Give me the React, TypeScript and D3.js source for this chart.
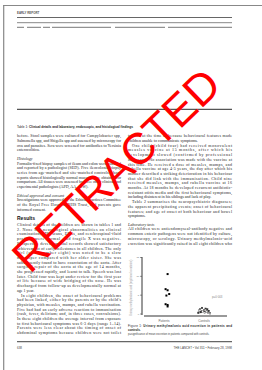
import React from 'react';
import * as d3 from 'd3';

// Figure 1 data
const groups = ['Patients', 'Controls'];
const patientMMA = [10.6, 6.6, 6.3, 5.3, 4.9, 2.6, 2.4, 2.0];
const patientJitter = [0.09, 0.04, 0.09, 0.13, 0.06, 0.04, 0.09, 0.09];
const controlMMA = [1.6, 1.4, 1.3, 1.2, 1.0, 0.9, 0.8, 0.7, 0.6, 0.5, 0.4, 0.3, 0.3, 0.2];
const controlJitter = [-0.05, 0.04, -0.1, 0.08, 0.0, -0.12, 0.12, -0.04, 0.06, -0.08, 0.02, 0.1, -0.14, 0.15];
const yTicks = [0, 5, 10, 15];
const pLabel = 'p=0·003';

// text blocks of the page
type Block = { kind: 'para' | 'head' | 'results'; lines: string[]; indent?: boolean; runOn?: boolean };

const leftColumn: Block[] = [
  { kind: 'para', lines: [
    'before. Stool samples were cultured for Campylobacter spp,',
    'Salmonella spp, and Shigella spp and assessed by microscopy for',
    'ova and parasites. Sera were screened for antibodies to Yersinia',
    'enterocolitica.'] },
  { kind: 'head', lines: ['Histology'] },
  { kind: 'para', lines: [
    'Formalin-fixed biopsy samples of ileum and colon were assessed',
    'and reported by a pathologist (SED). Five ileocolonic biopsy',
    'series from age-matched and site-matched controls whose',
    'reports showed histologically normal mucosa were obtained for',
    'comparison. All tissues were assessed by three other clinical and',
    'experimental pathologists (APD, AA, AJW).'] },
  { kind: 'head', lines: ['Ethical approval and consent'] },
  { kind: 'para', lines: [
    'Investigations were approved by the Ethical Practices Committee',
    'of the Royal Free Hospital NHS Trust, and parents gave',
    'informed consent.'] },
  { kind: 'results', lines: ['Results'] },
  { kind: 'para', lines: [
    'Clinical details of the children are shown in tables 1 and',
    '2. None had neurological abnormalities on clinical',
    'examination; MRI scans, EEGs, and cerebrospinal-fluid',
    'profiles were normal, and fragile X was negative.',
    'Prospective developmental records showed satisfactory',
    'achievement of early milestones in all children. The only',
    'girl (child number eight) was noted to be a slow',
    'developer compared with her older sister. She was',
    'subsequently found to have coarctation of the aorta. After',
    'surgical repair of the aorta at the age of 14 months,',
    'she progressed rapidly, and learnt to talk. Speech was lost',
    'later. Child four was kept under review for the first year',
    'of life because of wide bridging of the nose. He was',
    'discharged from follow-up as developmentally normal at',
    'age 1 year.'] },
  { kind: 'para', indent: true, runOn: true, lines: [
    'In eight children, the onset of behavioural problems',
    "had been linked, either by the parents or by the child's",
    'physician, with measles, mumps, and rubella vaccination.',
    'Five had had an early adverse reaction to immunisation',
    '(rash, fever, delirium; and, in three cases, convulsions).',
    'In these eight children the average interval from exposure',
    'to first behavioural symptoms was 6·3 days (range 1–14).',
    'Parents were less clear about the timing of onset of',
    'abdominal symptoms because children were not toilet'] },
];

const rightColumn: Block[] = [
  { kind: 'para', lines: [
    'trained at the time or because behavioural features made',
    'children unable to communicate symptoms.'] },
  { kind: 'para', indent: true, lines: [
    'One child (child four) had received monovalent',
    'measles vaccine at 15 months, after which his',
    'development slowed (confirmed by professional',
    'assessors). No association was made with the vaccine at',
    'this time. He received a dose of measles, mumps, and',
    'rubella vaccine at age 4·5 years, the day after which his',
    'mother described a striking deterioration in his behaviour',
    'that she did link with the immunisation. Child nine',
    'received measles, mumps, and rubella vaccine at 16',
    'months. At 18 months he developed recurrent antibiotic-',
    'resistant otitis media and the first behavioural symptoms,',
    'including disinterest in his siblings and lack of play.'] },
  { kind: 'para', indent: true, lines: [
    'Table 2 summarises the neuropsychiatric diagnoses;',
    'the apparent precipitating events; onset of behavioural',
    'features; and age of onset of both behaviour and bowel',
    'symptoms.'] },
  { kind: 'head', lines: ['Laboratory tests'] },
  { kind: 'para', runOn: true, lines: [
    'All children were antiendomyseal-antibody negative and',
    'common enteric pathogens were not identified by culture,',
    'microscopy, or serology. Urinary methylmalonic-acid',
    'excretion was significantly raised in all eight children who'] },
];

const tableRuleSegments = [[17, 24], [27, 41], [43, 50], [52, 111], [115, 165], [168, 232]];

const serif = '"Liberation Serif", "Times New Roman", serif';
const sans = '"Liberation Sans", Arial, sans-serif';
const LEAD = 4.7;
const BODY = 4;

function layoutColumn(blocks: Block[], x0: number, width: number, y0: number, key: string) {
  const out: React.ReactNode[] = [];
  let y = y0;
  blocks.forEach((b, bi) => {
    if (b.kind === 'head') {
      y += 3.8;
      out.push(<text key={`${key}h${bi}`} x={x0} y={y} fontFamily={serif} fontStyle="italic" fontSize={BODY} fill="#222">{b.lines[0]}</text>);
      y += LEAD;
      return;
    }
    if (b.kind === 'results') {
      y += 5;
      out.push(<text key={`${key}r${bi}`} x={x0} y={y} fontFamily={sans} fontWeight="bold" fontSize={5} fill="#111">{b.lines[0]}</text>);
      y += 5.6;
      return;
    }
    b.lines.forEach((ln, li) => {
      const ind = b.indent && li === 0 ? 4 : 0;
      const justify = li < b.lines.length - 1 || b.runOn;
      out.push(
        <text key={`${key}${bi}-${li}`} x={x0 + ind} y={y} fontFamily={serif} fontSize={BODY} fill="#222"
          {...(justify ? { textLength: width - ind, lengthAdjust: 'spacing' } : {})}>{ln}</text>
      );
      y += LEAD;
    });
  });
  return out;
}

const App: React.FC = () => {
  const x = d3.scalePoint<string>().domain(groups).range([144, 224]).padding(0.5);
  const step = x.step();
  const y = d3.scaleLinear().domain([0, 15]).range([314, 257.5]);
  const axisX = 142;

  return (
    <svg width={262} height={370} style={{ position: 'absolute', left: 0, top: 0, background: '#fff' }}>
      <rect width={262} height={370} fill="#fff" />
      {/* page border */}
      <line x1={3} x2={262} y1={5.5} y2={5.5} stroke="#888" strokeWidth={1.2} />
      <line x1={3.7} x2={3.7} y1={5} y2={370} stroke="#888" strokeWidth={1.2} />

      {/* running head & table */}
      <text x={17} y={14.3} fontFamily={sans} fontWeight="bold" fontSize={2.9} fill="#555">EARLY REPORT</text>
      <line x1={17} x2={232} y1={17.5} y2={17.5} stroke="#666" strokeWidth={1.2} />
      <line x1={17} x2={232} y1={22.7} y2={22.7} stroke="#888" strokeWidth={1} />
      {tableRuleSegments.map(([a, b], i) => (
        <line key={i} x1={a} x2={b} y1={27.3} y2={27.3} stroke="#777" strokeWidth={1} />
      ))}
      <line x1={17} x2={232} y1={109.3} y2={109.3} stroke="#555" strokeWidth={1.2} />
      <text x={17} y={128.3} fontFamily={sans} fontSize={3.2} fill="#222">
        Table 1: <tspan fontWeight="bold">Clinical details and laboratory, endoscopic, and histological findings</tspan>
      </text>

      {layoutColumn(leftColumn, 17, 104, 137.3, 'L')}
      {layoutColumn(rightColumn, 128, 104, 137.3, 'R')}

      {/* Figure 1 */}
      <g>
        <line x1={axisX} x2={axisX} y1={y(15) - 0.5} y2={y(0) + 1} stroke="#000" strokeWidth={0.8} />
        {yTicks.map(t => (
          <g key={t}>
            <line x1={axisX - 2} x2={axisX} y1={y(t)} y2={y(t)} stroke="#333" strokeWidth={0.5} />
            <text x={axisX - 2.8} y={y(t) + 0.9} textAnchor="end" fontFamily={sans} fontSize={2.5} fill="#777">{t}</text>
          </g>
        ))}
        <text transform={`translate(132,${(y(0) + y(15)) / 2 + 2}) rotate(-90)`} textAnchor="middle"
          fontFamily={sans} fontSize={2.6} fill="#999">Urinary methylmalonic acid (mg/mmol creatinine)</text>
        <line x1={144} x2={227} y1={316} y2={316} stroke="#777" strokeWidth={1.6} />
        {groups.map(g => (
          <text key={g} x={x(g)} y={321.5} textAnchor="middle" fontFamily={sans} fontSize={3.1} fill="#666">{g}</text>
        ))}
        {patientMMA.map((v, i) => (
          <rect key={`p${i}`} x={(x('Patients') ?? 0) + patientJitter[i] * step - 1} y={y(v) - 1} width={2} height={2} fill="#000" />
        ))}
        {controlMMA.map((v, i) => (
          <rect key={`c${i}`} x={(x('Controls') ?? 0) + controlJitter[i] * step - 0.8} y={y(v) - 0.8} width={1.6} height={1.6}
            fill={i % 3 === 0 ? '#333' : '#fff'} stroke="#333" strokeWidth={0.4} />
        ))}
        <text x={212} y={y(4.2)} fontFamily={sans} fontSize={2.8} fill="#888">{pLabel}</text>
      </g>

      {/* figure caption */}
      <text x={128} y={326.8} fontFamily={sans} fontSize={3} fill="#222" textLength={104} lengthAdjust="spacing">
        Figure 1: <tspan fontWeight="bold">Urinary methylmalonic acid excretion in patients and</tspan>
      </text>
      <text x={128} y={330.5} fontFamily={sans} fontSize={3} fontWeight="bold" fill="#222">controls.</text>
      <text x={128} y={335.2} fontFamily={sans} fontSize={2.7} fill="#444">p=significance of mean excretion in patients compared with controls.</text>

      {/* footer */}
      <line x1={17} x2={232} y1={341.7} y2={341.7} stroke="#666" strokeWidth={1.2} />
      <text x={17} y={349} fontFamily={sans} fontSize={3} fill="#444">638</text>
      <text x={232} y={349} textAnchor="end" fontFamily={sans} fontSize={3} fill="#444">THE LANCET • Vol 351 • February 28, 1998</text>

      {/* watermark */}
      <text transform="translate(116,170) rotate(-44)" textAnchor="middle" dominantBaseline="central"
        fontFamily={sans} fontSize={44} fill="#ff0000">RETRACTED</text>
    </svg>
  );
};

export default App;
